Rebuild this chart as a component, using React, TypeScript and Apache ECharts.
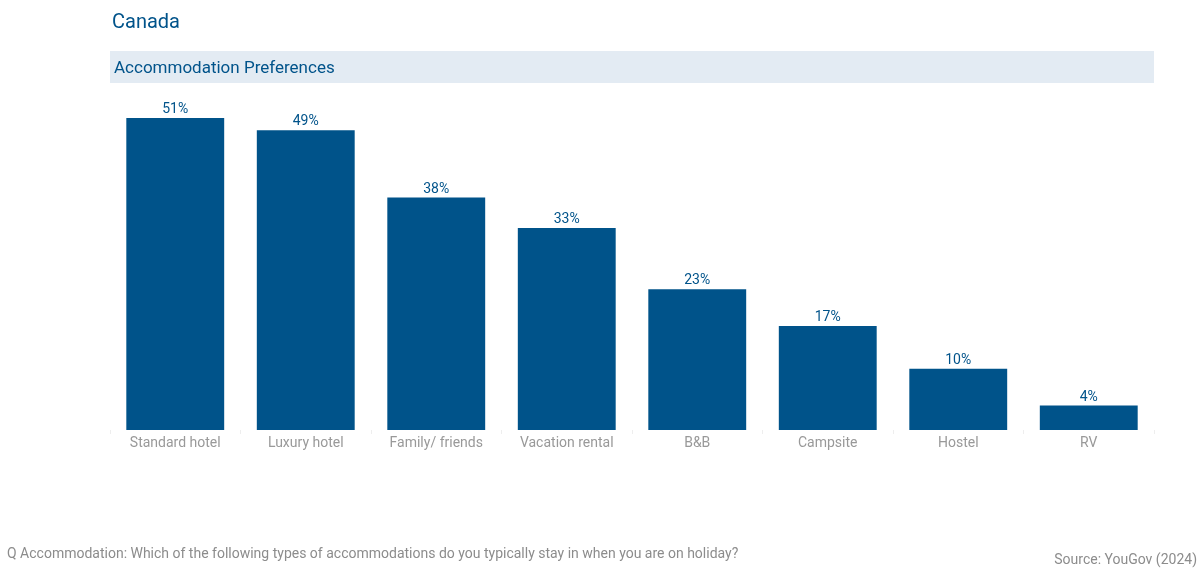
import React, { useEffect, useRef } from "react";
import * as echarts from "echarts";

const categories = ["Standard hotel", "Luxury hotel", "Family/ friends", "Vacation rental", "B&B", "Campsite", "Hostel", "RV"];
const values = [51, 49, 38, 33, 23, 17, 10, 4];
const title = "Canada";
const subtitle = "Accommodation Preferences";
const question = "Q Accommodation: Which of the following types of accommodations do you typically stay in when you are on holiday?";
const source = "Source: YouGov (2024)";

const BLUE = "#00538a";
const FONT = "Roboto, 'DejaVu Sans', sans-serif";

export default function App() {
  const ref = useRef<HTMLDivElement>(null);
  useEffect(() => {
    if (!ref.current) return;
    const chart = echarts.init(ref.current, undefined, { renderer: "svg" });
    chart.setOption({
      animation: false,
      textStyle: { fontFamily: FONT },
      grid: { left: 110, right: 46, top: 118, bottom: 145, containLabel: false },
      xAxis: {
        type: "category",
        data: categories,
        axisLine: { show: false },
        axisTick: { show: true, length: 4, lineStyle: { color: "#eeeeee" } },
        axisLabel: { color: "#999999", fontSize: 14, margin: 5, fontFamily: FONT },
      },
      yAxis: { type: "value", min: 0, max: 51, show: false, splitLine: { show: false } },
      series: [
        {
          type: "bar",
          data: values,
          barWidth: "75%",
          itemStyle: { color: BLUE },
          label: {
            show: true,
            position: "top",
            distance: 3,
            formatter: "{c}%",
            color: BLUE,
            fontSize: 14,
            fontFamily: FONT,
          },
        },
      ],
      graphic: [
        { type: "text", left: 112, top: 11, style: { text: title, fill: BLUE, fontSize: 20, fontFamily: FONT } },
        { type: "rect", shape: { x: 110, y: 51, width: 1044, height: 32 }, style: { fill: "#e3ebf3" } },
        { type: "text", left: 114, top: 58, style: { text: subtitle, fill: BLUE, fontSize: 17, fontFamily: FONT } },
        { type: "text", left: 7, top: 546, style: { text: question, fill: "#8c8c8c", fontSize: 14, fontFamily: FONT } },
        { type: "text", right: 3, top: 552, style: { text: source, fill: "#8c8c8c", fontSize: 14, fontFamily: FONT } },
      ],
    });
    return () => chart.dispose();
  }, []);
  return <div ref={ref} style={{ position: "fixed", left: 0, top: 0, width: 1200, height: 575 }} />;
}
